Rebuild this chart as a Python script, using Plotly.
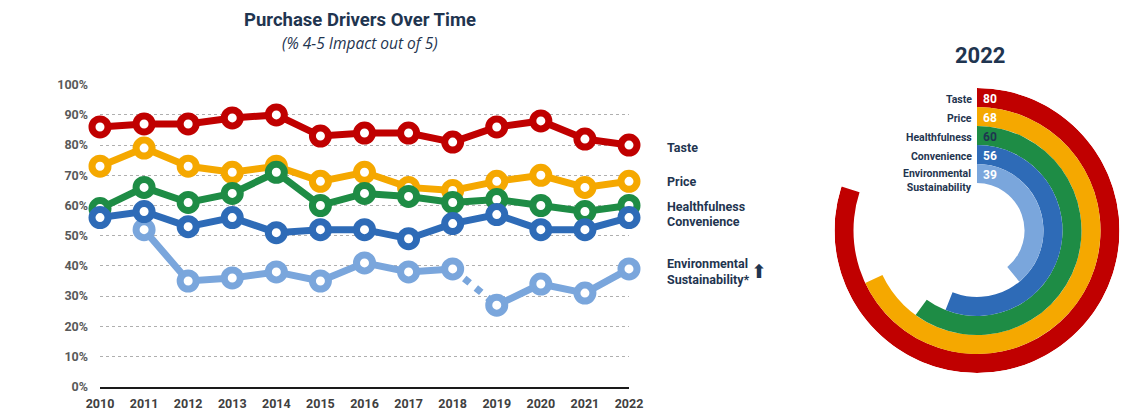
import plotly.graph_objects as go

# ---- data -------------------------------------------------------------
years = [2010, 2011, 2012, 2013, 2014, 2015, 2016, 2017, 2018, 2019, 2020, 2021, 2022]
taste = [86, 87, 87, 89, 90, 83, 84, 84, 81, 86, 88, 82, 80]
price = [73, 79, 73, 71, 73, 68, 71, 66, 65, 68, 70, 66, 68]
healthfulness = [59, 66, 61, 64, 71, 60, 64, 63, 61, 62, 60, 58, 60]
convenience = [56, 58, 53, 56, 51, 52, 52, 49, 54, 57, 52, 52, 56]
env_years = [2011, 2012, 2013, 2014, 2015, 2016, 2017, 2018, 2019, 2020, 2021, 2022]
environmental = [52, 35, 36, 38, 35, 41, 38, 39, 27, 34, 31, 39]

ring_labels = ["Taste", "Price", "Healthfulness", "Convenience", "Environmental<br>Sustainability"]
ring_values_2022 = [80, 68, 60, 56, 39]

# ---- styling ------------------------------------------------------------
RED, ORANGE, GREEN, BLUE, LIGHT = "#C00000", "#F5A800", "#1E8C45", "#2E6BB7", "#7AA6DC"
NAVY = "#1F3550"
FONT = "Roboto"
W, H = 1121, 410


def px(x):
    return x / W


def py(y):
    return 1 - y / H


fig = go.Figure()


def add_series(xs, ys, color, name, dash="solid", markers=True):
    fig.add_trace(go.Scatter(
        x=xs, y=ys, name=name,
        mode="lines+markers" if markers else "lines",
        line=dict(color=color, width=7, dash=dash),
        marker=dict(size=16, color="white", line=dict(color=color, width=7)),
        cliponaxis=False, showlegend=False, hoverinfo="x+y",
    ))


# Environmental sustainability: dotted across the 2018-2019 method change
split = env_years.index(2018)
add_series(env_years[split:split + 2], environmental[split:split + 2], LIGHT,
           "Environmental Sustainability", dash="7px,8px", markers=False)
add_series(env_years[:split + 1], environmental[:split + 1], LIGHT, "Environmental Sustainability")
add_series(env_years[split + 1:], environmental[split + 1:], LIGHT, "Environmental Sustainability")
add_series(years, taste, RED, "Taste")
add_series(years, price, ORANGE, "Price")
add_series(years, healthfulness, GREEN, "Healthfulness")
add_series(years, convenience, BLUE, "Convenience")

# ---- 2022 radial bars ------------------------------------------------------
ring_colors = [RED, ORANGE, GREEN, BLUE, LIGHT]
n = len(ring_values_2022)
for i, (lab, v, c) in enumerate(zip(ring_labels, ring_values_2022, ring_colors)):
    base = 2.5 + (n - 1 - i)
    fig.add_trace(go.Barpolar(
        r=[1], base=[base], theta=[v * 3.6 / 2], width=[v * 3.6],
        marker=dict(color=c, line=dict(width=0)),
        name=lab.replace("<br>", " "), showlegend=False, hoverinfo="name",
    ))

cx, cy, ring_px = 977, 230.5, 19
fig.update_layout(
    polar=dict(
        domain=dict(x=[px(cx - 7.5 * ring_px), px(cx + 7.5 * ring_px)],
                    y=[py(cy + 7.5 * ring_px), py(cy - 7.5 * ring_px)]),
        bgcolor="rgba(0,0,0,0)",
        barmode="overlay",
        radialaxis=dict(range=[0, 7.5], visible=False),
        angularaxis=dict(direction="clockwise", rotation=90, visible=False),
    )
)

annotations = []
value_colors = ["white", "white", NAVY, "white", "white"]
for i, (lab, v) in enumerate(zip(ring_labels, ring_values_2022)):
    rmid = (7 - i) * ring_px
    yy = cy - rmid + 1.5
    annotations.append(dict(
        x=px(cx - 3), y=py(yy + (6 if "<br>" in lab else 0)), xref="paper", yref="paper",
        text="<b>%s</b>" % lab, showarrow=False, xanchor="right", yanchor="middle",
        align="right", font=dict(family=FONT, size=10.5, color=NAVY)))
    annotations.append(dict(
        x=px(cx + 4), y=py(yy), xref="paper", yref="paper",
        text="<b>%d</b>" % v, showarrow=False, xanchor="left", yanchor="middle",
        font=dict(family=FONT, size=12, color=value_colors[i])))

annotations.append(dict(x=px(980), y=py(55), xref="paper", yref="paper",
                        text="<b>2022</b>", showarrow=False,
                        xanchor="center", yanchor="middle",
                        font=dict(family=FONT, size=22, color=NAVY)))

# ---- line chart titles & series labels ---------------------------------------
annotations.append(dict(x=px(360), y=py(20), xref="paper", yref="paper",
                        text="<b>Purchase Drivers Over Time</b>", showarrow=False,
                        xanchor="center", yanchor="middle",
                        font=dict(family=FONT, size=18.5, color=NAVY)))
annotations.append(dict(x=px(360), y=py(43), xref="paper", yref="paper",
                        text="<i>(% 4-5 Impact out of 5)</i>", showarrow=False,
                        xanchor="center", yanchor="middle",
                        font=dict(family="Open Sans", size=15.5, color=NAVY)))

series_labels = [("Taste", 147), ("Price", 182), ("Healthfulness", 206),
                 ("Convenience", 221), ("Environmental<br>Sustainability*", 271)]
for text, yy in series_labels:
    annotations.append(dict(x=px(665), y=py(yy), xref="paper", yref="paper",
                            text="<b>%s</b>" % text, showarrow=False,
                            xanchor="left", yanchor="middle", align="left",
                            font=dict(family=FONT, size=12.5, color=NAVY)))
annotations.append(dict(x=px(759), y=py(271), xref="paper", yref="paper",
                        text="⬆", showarrow=False,
                        xanchor="center", yanchor="middle",
                        font=dict(family="DejaVu Sans", size=19, color=NAVY)))

fig.update_layout(
    width=W, height=H,
    margin=dict(l=0, r=0, t=0, b=0, autoexpand=False),
    paper_bgcolor="white", plot_bgcolor="white",
    annotations=annotations,
    xaxis=dict(
        domain=[px(100), px(629)], range=[2010, 2022], automargin=False,
        tickmode="array", tickvals=years, ticktext=[str(y) for y in years],
        showgrid=False, zeroline=False,
        showline=True, linecolor="#1a1a1a", linewidth=2,
        ticks="", ticklabelstandoff=4,
        tickfont=dict(family=FONT, size=12.5, color="#404040", weight="bold"),
    ),
    yaxis=dict(
        domain=[py(386.7), py(84.7)], range=[0, 100], automargin=False,
        tickmode="linear", tick0=0, dtick=10, ticksuffix="%",
        showgrid=True, gridcolor="#AFAFAF", griddash="dot", gridwidth=1,
        zeroline=False, ticks="", ticklabelstandoff=11,
        tickfont=dict(family=FONT, size=12.5, color="#595959", weight="bold"),
    ),
    showlegend=False,
)

fig.write_html("out.html")
